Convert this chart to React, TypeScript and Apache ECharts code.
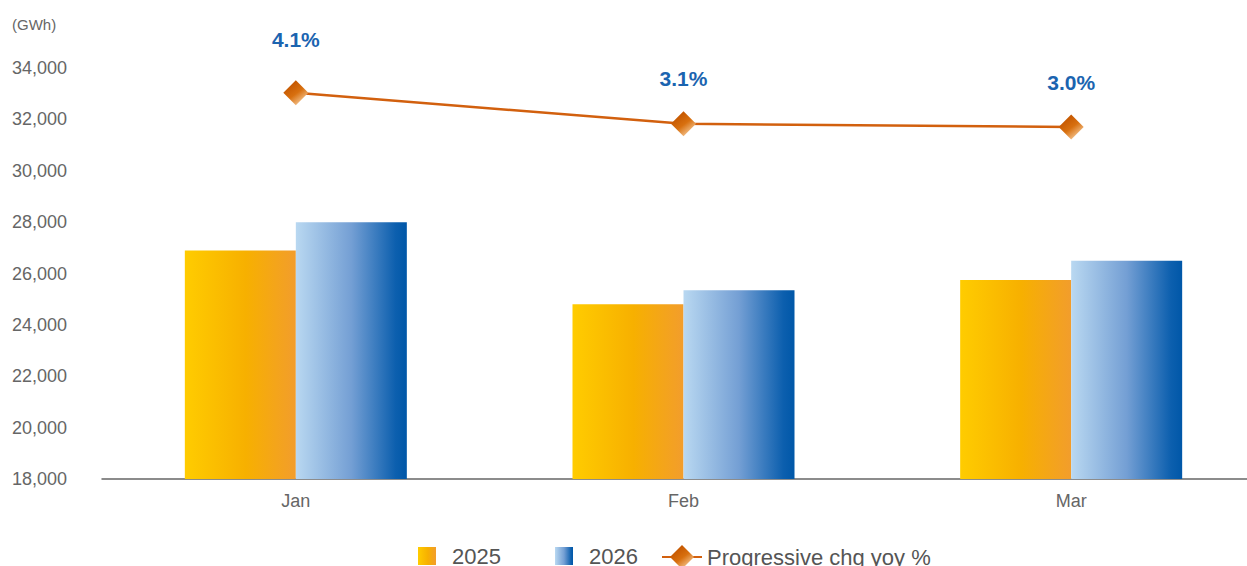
import React, { useEffect, useRef } from "react";
import * as echarts from "echarts";

// ---- data ----
const CATEGORIES = ["Jan", "Feb", "Mar"];
const VALUES_2025 = [26900, 24800, 25750];
const VALUES_2026 = [28000, 25350, 26500];
const YOY_PCT = [4.1, 3.1, 3.0];
const Y_MIN = 18000;
const Y_MAX = 34000;
const Y_STEP = 2000;

// ---- styles ----
const FONT = "'Liberation Sans', Arial, Helvetica, sans-serif";
const LABEL_LIFT = [30, 22, 21];

const grad2025 = new echarts.graphic.LinearGradient(0, 0, 1, 0, [
  { offset: 0, color: "#ffcc00" },
  { offset: 0.55, color: "#f7b000" },
  { offset: 1, color: "#f29d2c" },
]);
const grad2026 = new echarts.graphic.LinearGradient(0, 0, 1, 0, [
  { offset: 0, color: "#b9d8f1" },
  { offset: 0.5, color: "#749fd4" },
  { offset: 0.9, color: "#0c5fae" },
  { offset: 1, color: "#0057a8" },
]);
const gradDiamond = new echarts.graphic.LinearGradient(0.2, 0.2, 0.8, 1, [
  { offset: 0, color: "#c45600" },
  { offset: 0.45, color: "#d8700f" },
  { offset: 1, color: "#fbd9b0" },
]);

export default function App() {
  const ref = useRef<HTMLDivElement>(null);
  useEffect(() => {
    if (!ref.current) return;
    const chart = echarts.init(ref.current, null, { renderer: "svg" });
    const legendText = { fontSize: 22, color: "#555", fontFamily: FONT };
    chart.setOption({
      animation: false,
      textStyle: { fontFamily: FONT },
      grid: { left: 102, right: 0, top: 68, bottom: 87, containLabel: false },
      graphic: [
        {
          type: "text",
          left: 12,
          top: 17,
          style: { text: "(GWh)", fontSize: 15, fill: "#666", fontFamily: FONT },
        },
      ],
      legend: [
        {
          data: ["2025"],
          left: 413,
          top: 540,
          itemWidth: 40,
          itemHeight: 18,
          itemGap: 0,
          icon: "path://M0,0h18v18h-18z",
          textStyle: legendText,
        },
        {
          data: ["2026"],
          left: 550,
          top: 540,
          itemWidth: 40,
          itemHeight: 18,
          itemGap: 0,
          icon: "path://M0,0h18v18h-18z",
          textStyle: legendText,
        },
        {
          data: ["Progressive chg yoy %"],
          left: 656,
          top: 540,
          itemWidth: 40,
          itemHeight: 30,
          itemGap: 0,
          textStyle: legendText,
        },
      ],
      xAxis: {
        type: "category",
        data: CATEGORIES,
        axisTick: { show: false },
        axisLine: { onZero: false, lineStyle: { color: "#666", width: 1.5 } },
        axisLabel: { color: "#666", fontSize: 18, margin: 13, fontFamily: FONT },
      },
      yAxis: [
        {
          type: "value",
          min: Y_MIN,
          max: Y_MAX,
          interval: Y_STEP,
          axisLine: { show: false },
          axisTick: { show: false },
          splitLine: { show: false },
          axisLabel: {
            color: "#666",
            fontSize: 18,
            margin: 35,
            fontFamily: FONT,
            formatter: (v: number) => v.toLocaleString("en-US"),
          },
        },
        {
          type: "value",
          show: false,
          min: -8.35,
          max: 4.9,
          splitLine: { show: false },
        },
      ],
      series: [
        {
          name: "2025",
          type: "bar",
          data: VALUES_2025,
          barWidth: 111,
          barGap: "0%",
          itemStyle: { color: grad2025 },
          emphasis: { disabled: true },
        },
        {
          name: "2026",
          type: "bar",
          data: VALUES_2026,
          barWidth: 111,
          barGap: "0%",
          itemStyle: { color: grad2026 },
          emphasis: { disabled: true },
        },
        {
          name: "Progressive chg yoy %",
          type: "line",
          yAxisIndex: 1,
          data: YOY_PCT.map((v, i) => ({
            value: v,
            label: { distance: LABEL_LIFT[i] },
          })),
          symbol: "diamond",
          symbolSize: 25,
          itemStyle: { color: gradDiamond },
          lineStyle: { color: "#d2600e", width: 2.5 },
          emphasis: { disabled: true },
          label: {
            show: true,
            position: "top",
            color: "#1b64b0",
            fontSize: 21,
            fontWeight: "bold",
            fontFamily: FONT,
            formatter: (p: any) => Number(p.value).toFixed(1) + "%",
          },
        },
      ],
    });
    return () => chart.dispose();
  }, []);
  return (
    <div
      style={{
        position: "fixed",
        left: 0,
        top: 0,
        width: 1247,
        height: 566,
        overflow: "hidden",
        background: "#fff",
      }}
    >
      <div ref={ref} style={{ width: 1265, height: 566 }} />
    </div>
  );
}
